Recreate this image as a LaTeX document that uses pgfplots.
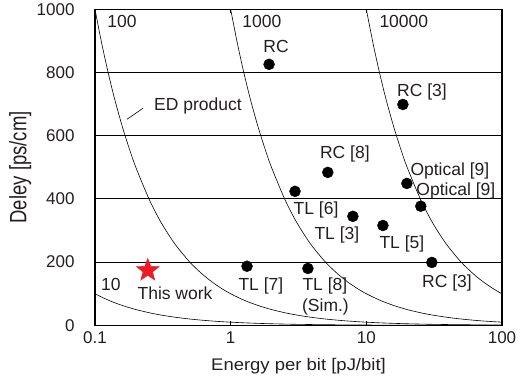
\documentclass[border=0pt]{standalone}
\usepackage{fontspec}
\setmainfont{Liberation Sans}
\usepackage{pgfplots}
\pgfplotsset{compat=1.18}
\definecolor{starred}{RGB}{237,28,36}
\definecolor{txt}{RGB}{35,31,32}
\pgfdeclareplotmark{fstar}{%
 \pgfpathmoveto{\pgfpointpolar{90}{\pgfplotmarksize}}%
 \pgfpathlineto{\pgfpointpolar{126}{0.42\pgfplotmarksize}}%
 \pgfpathlineto{\pgfpointpolar{162}{\pgfplotmarksize}}%
 \pgfpathlineto{\pgfpointpolar{198}{0.42\pgfplotmarksize}}%
 \pgfpathlineto{\pgfpointpolar{234}{\pgfplotmarksize}}%
 \pgfpathlineto{\pgfpointpolar{270}{0.42\pgfplotmarksize}}%
 \pgfpathlineto{\pgfpointpolar{306}{\pgfplotmarksize}}%
 \pgfpathlineto{\pgfpointpolar{342}{0.42\pgfplotmarksize}}%
 \pgfpathlineto{\pgfpointpolar{18}{\pgfplotmarksize}}%
 \pgfpathlineto{\pgfpointpolar{54}{0.42\pgfplotmarksize}}%
 \pgfpathclose
 \pgfusepathqfillstroke}
\pgfplotstableread{
x y
1.92 826
18.6 699
5.2 484
2.98 424
19.9 449
25.2 377
7.96 345
13.25 316
30.4 199
3.71 180
1.32 187
}\refdata
\begin{document}
\begin{tikzpicture}
\begin{axis}[
  scale only axis,
  width=407bp, height=316bp,
  xmode=log,
  xmin=0.1, xmax=100, ymin=0, ymax=1000,
  xtick={0.1,1,10,100}, xticklabels={0.1,1,10,100},
  ytick={0,200,400,600,800,1000}, yticklabels={0,200,400,600,800,1000},
  log basis x=10,
  xminorticks=false,
  axis line style={line width=1.6bp},
  ymajorgrids, grid style={black, line width=1bp},
  ytick style={draw=none},
  xtick style={black, line width=0.6bp},
  major tick length=4bp,
  tick align=inside,
  /pgf/number format/assume math mode=true,
  ticklabel style={font=\fontsize{17bp}{20bp}\selectfont, text=txt},
  yticklabel style={xshift=-17bp},
  xticklabel style={yshift=-3bp},
  xlabel={Energy per bit [pJ/bit]},
  ylabel={Deley [ps/cm]},
  ylabel style={font=\fontsize{18.5bp}{22bp}\selectfont, text=txt, yscale=1.28, yshift=-2bp},
  xlabel style={font=\fontsize{16.8bp}{20bp}\selectfont, text=txt, xscale=1.1, yshift=-8bp},
  clip=true,
]
\coordinate (A) at (rel axis cs:0,0);
\coordinate (B) at (rel axis cs:1,1);
% ED product curves
\addplot[black, line width=0.6bp, smooth, no marks] coordinates {
(0.1,100)(0.112,89.3)(0.125,80)(0.14,71.4)(0.16,62.5)(0.18,55.6)(0.2,50)(0.25,40)(0.3,33.3)(0.35,28.6)(0.4,25)(0.5,20)(0.6,16.7)(0.7,14.3)(0.8,12.5)(0.9,11.1)(1,10)(1.12,8.93)(1.25,8)(1.4,7.14)(1.6,6.25)(1.8,5.56)(2,5)(2.5,4)(3,3.33)(3.5,2.86)(4,2.5)(5,2)(6,1.67)(7,1.43)(8,1.25)(9,1.11)(10,1)(12.5,0.8)(16,0.625)(20,0.5)(25,0.4)(30,0.333)(40,0.25)(50,0.2)(60,0.167)(70,0.143)(80,0.125)(100,0.1)};
\addplot[black, line width=0.6bp, smooth, no marks] coordinates {
(0.1,1000)(0.112,893)(0.125,800)(0.14,714)(0.16,625)(0.18,556)(0.2,500)(0.25,400)(0.3,333)(0.35,286)(0.4,250)(0.5,200)(0.6,167)(0.7,143)(0.8,125)(0.9,111)(1,100)(1.12,89.3)(1.25,80)(1.4,71.4)(1.6,62.5)(1.8,55.6)(2,50)(2.5,40)(3,33.3)(3.5,28.6)(4,25)(5,20)(6,16.7)(7,14.3)(8,12.5)(9,11.1)(10,10)(12.5,8)(16,6.25)(20,5)(25,4)(30,3.33)(40,2.5)(50,2)(60,1.67)(70,1.43)(80,1.25)(100,1)};
\addplot[black, line width=0.6bp, smooth, no marks] coordinates {
(1,1000)(1.12,893)(1.25,800)(1.4,714)(1.6,625)(1.8,556)(2,500)(2.5,400)(3,333)(3.5,286)(4,250)(5,200)(6,167)(7,143)(8,125)(9,111)(10,100)(12.5,80)(16,62.5)(20,50)(25,40)(30,33.3)(40,25)(50,20)(60,16.7)(70,14.3)(80,12.5)(100,10)};
\addplot[black, line width=0.6bp, smooth, no marks] coordinates {
(10,1000)(11.2,893)(12.5,800)(14,714)(16,625)(18,556)(20,500)(25,400)(30,333)(35,286)(40,250)(50,200)(60,167)(70,143)(80,125)(90,111)(100,100)};
% leader line
\addplot[black, line width=0.6bp, no marks] coordinates {(0.172,652)(0.226,687)};
% data points
\addplot[only marks, mark=*, mark size=5.5bp, black] table[x=x,y=y] {\refdata};
\addplot[only marks, mark=fstar, mark size=12bp, starred, fill=starred] coordinates {(0.245,174)};
% labels
\begin{scope}[every node/.style={font=\fontsize{17.5bp}{21bp}\selectfont, text=txt, inner sep=0pt}]
\node at (axis cs:0.158,962) {100};
\node at (axis cs:1.70,962) {1000};
\node at (axis cs:18.9,962) {10000};
\node at (axis cs:0.131,130) {10};
\node at (axis cs:0.574,693) {ED product};
\node at (axis cs:2.16,883) {RC};
\node at (axis cs:25.7,737) {RC [3]};
\node at (axis cs:6.95,541) {RC [8]};
\node at (axis cs:41.3,490) {Optical [9]};
\node at (axis cs:45.7,424) {Optical [9]};
\node at (axis cs:4.26,364) {TL [6]};
\node at (axis cs:6.07,285) {TL [3]};
\node at (axis cs:18.3,259) {TL [5]};
\node at (axis cs:39.3,133) {RC [3]};
\node at (axis cs:4.95,123) {TL [8]};
\node at (axis cs:5.0,57) {(Sim.)};
\node at (axis cs:1.67,123) {TL [7]};
\node at (axis cs:0.389,101) {This work};
\end{scope}
\end{axis}
\path ([shift={(-95bp,-64bp)}]A) rectangle ([shift={(19bp,6bp)}]B);
\end{tikzpicture}
\end{document}
